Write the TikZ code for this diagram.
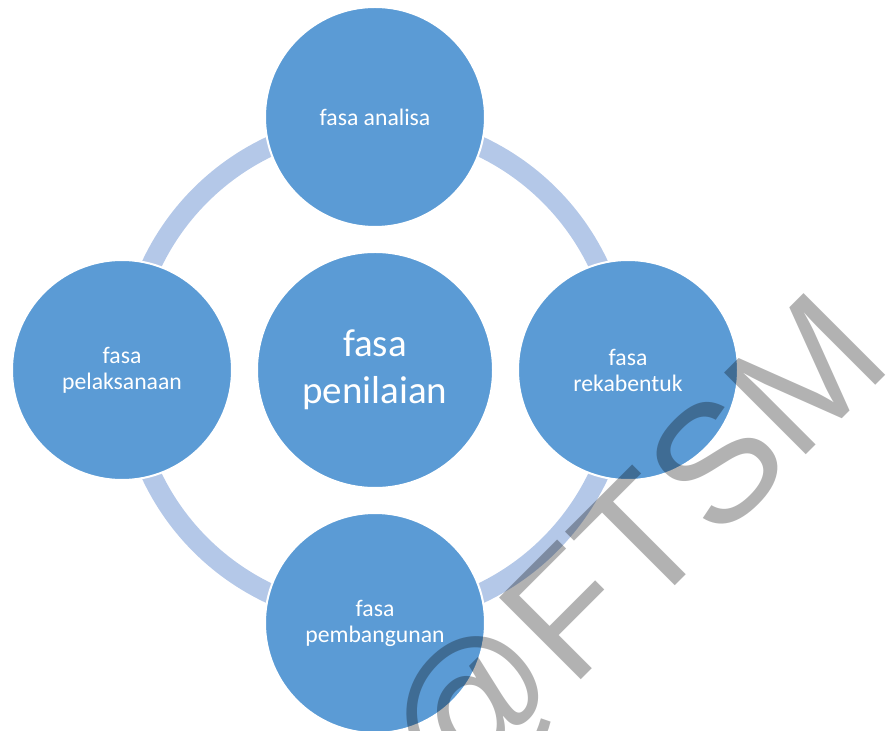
\documentclass[tikz,border=0pt]{standalone}
\usepackage{fontspec}
\setmainfont{Carlito}
\newfontfamily\wmfont{Liberation Sans}
\usepackage{tikz}
\usetikzlibrary{positioning}
\definecolor{circblue}{HTML}{5B9BD5}
\definecolor{ringblue}{HTML}{B4C8E8}
\tikzset{
  phase/.style={circle, fill=circblue, draw=white, line width=1pt, minimum size=110pt,
    inner sep=0pt, text=white, align=center, font=\fontsize{11.85}{13}\selectfont},
  hubphase/.style={phase, minimum size=118pt, font=\fontsize{19.5}{23.5}\selectfont},
  ring/.style={draw=ringblue, line width=10pt},
  watermark/.style={inner sep=0pt, text=black, text opacity=0.3,
    font=\wmfont\fontsize{84}{90}\selectfont}
}
\begin{document}
\begin{tikzpicture}[x=0.5pt, y=0.5pt]
\clip (-375,-361) rectangle (511,370);

% ring behind the circles
\coordinate (hub) at (0,0);
\draw[ring] (hub) circle[radius=123.5pt];

% centre
\node[hubphase] (penilaian) at (hub) {fasa\\penilaian};

% outer phases
\foreach \name/\ang/\descr in {analisa/90/{fasa analisa}, rekabentuk/0/{fasa\\rekabentuk},
  pembangunan/-90/{fasa\\pembangunan}, pelaksanaan/180/{fasa\\pelaksanaan}}
\node[phase] (\name) at (\ang:253) {\descr};

% watermark
\node[watermark, rotate=45, anchor=base west] (wm) at (76,-440) {@FTSM};
\end{tikzpicture}
\end{document}
